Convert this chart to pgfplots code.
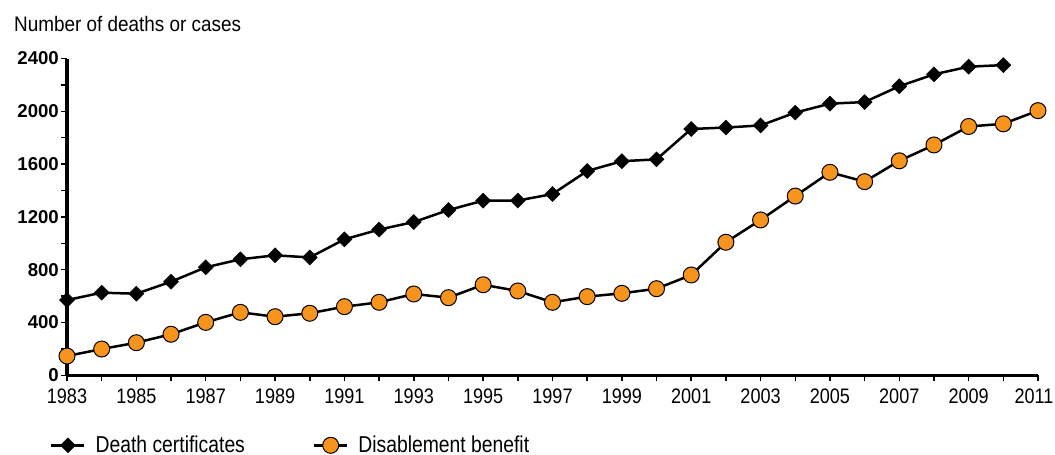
\documentclass[border=0pt]{standalone}
\usepackage{fontspec}
\setmainfont{Liberation Sans}
\newfontfamily\titlefont{Liberation Sans}[FakeStretch=0.9]
\newfontfamily\legfont{Liberation Sans}[FakeStretch=0.84]
\newfontfamily\xfont{Liberation Sans}[FakeStretch=0.86]
\usepackage{pgfplots}
\pgfplotsset{compat=1.18}
\definecolor{orng}{HTML}{F7941E}
\begin{document}
\begin{tikzpicture}
\path[use as bounding box] (0,0) rectangle (1055bp,-455bp);
\node[anchor=base west, inner sep=0pt] at (14bp,-31bp) {\titlefont\fontsize{21bp}{25bp}\selectfont Number of deaths or cases};
\begin{axis}[
  at={(67bp,-375.3bp)}, anchor=south west,
  scale only axis, width=971bp, height=316.8bp,
  xmin=1983, xmax=2011, ymin=0, ymax=2400,
  enlargelimits=false, clip=false,
  axis x line=bottom, axis y line=left,
  axis line style={-, line width=3.5bp},
  tick align=outside,
  major tick length=6bp, minor tick length=6bp,
  every tick/.style={black, line width=1.5bp},
  xtick={1983,1985,...,2011},
  minor xtick={1984,1986,...,2010},
  xticklabels={1983,1985,1987,1989,1991,1993,1995,1997,1999,2001,2003,2005,2007,2009,{2011\kern8bp}},
  ytick={0,400,...,2400},
  minor ytick={200,600,...,2200},
  yticklabels={0,400,800,1200,1600,2000,2400},
  xticklabel style={font=\xfont\fontsize{21bp}{25bp}\selectfont, inner sep=2bp, yshift=-5bp},
  yticklabel style={font=\bfseries\fontsize{18.6bp}{22bp}\selectfont, inner sep=2bp},
  legend columns=2,
  legend style={draw=none, fill=none, at={(-0.0206,-0.221)}, anchor=west,
    font=\legfont\fontsize{23bp}{27bp}\selectfont,
    nodes={inner ysep=0pt},
    /tikz/every odd column/.append style={column sep=8bp},
    /tikz/every even column/.append style={column sep=66bp}},
  legend image code/.code={\draw[mark repeat=2, mark phase=2, #1] plot coordinates {(0bp,0bp) (16.5bp,0bp) (33bp,0bp)};},
]
\addplot[black, line width=2.5bp, mark=square*, mark size=5.3bp, mark options={rotate=45, fill=black, line width=0.5bp}] coordinates {
(1983,570) (1984,626) (1985,618) (1986,709) (1987,818) (1988,879) (1989,909) (1990,893)
(1991,1030) (1992,1104) (1993,1161) (1994,1252) (1995,1323) (1996,1324) (1997,1373)
(1998,1548) (1999,1622) (2000,1636) (2001,1866) (2002,1877) (2003,1893) (2004,1990)
(2005,2058) (2006,2070) (2007,2190) (2008,2280) (2009,2338) (2010,2350)
};
\addlegendentry{Death certificates}
\addplot[black, line width=2.5bp, mark=*, mark size=8bp, mark options={fill=orng, draw=black, line width=1bp}] coordinates {
(1983,146) (1984,199) (1985,247) (1986,311) (1987,401) (1988,477) (1989,444) (1990,470)
(1991,520) (1992,553) (1993,616) (1994,588) (1995,686) (1996,639) (1997,553) (1998,596)
(1999,621) (2000,656) (2001,760) (2002,1008) (2003,1177) (2004,1358) (2005,1538)
(2006,1467) (2007,1625) (2008,1745) (2009,1885) (2010,1905) (2011,2005)
};
\addlegendentry{Disablement benefit}
\end{axis}
\end{tikzpicture}
\end{document}
